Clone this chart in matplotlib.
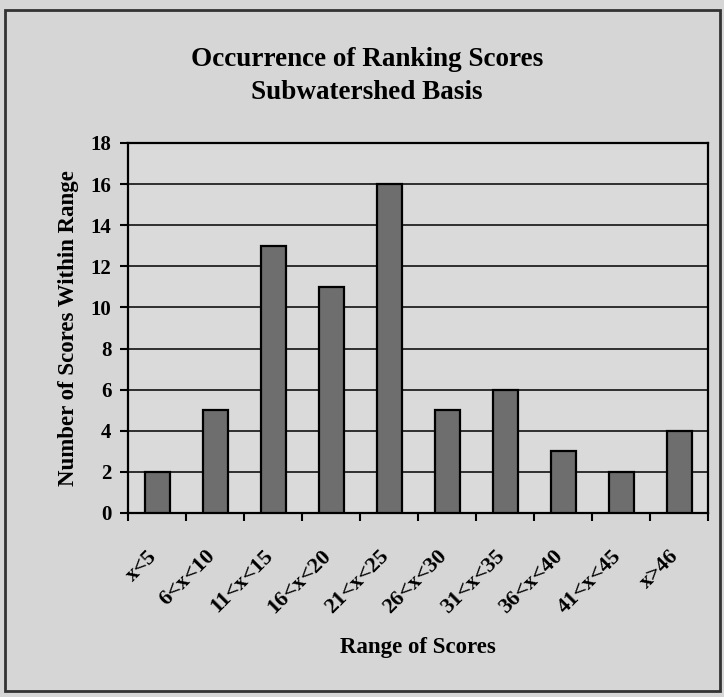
import matplotlib.pyplot as plt
import matplotlib.transforms as mtransforms
from matplotlib.patches import Rectangle
import numpy as np

categories = ['x<5', '6<x<10', '11<x<15', '16<x<20', '21<x<25',
              '26<x<30', '31<x<35', '36<x<40', '41<x<45', 'x>46']
counts = [2, 5, 13, 11, 16, 5, 6, 3, 2, 4]
y_ticks = [0, 2, 4, 6, 8, 10, 12, 14, 16, 18]

plt.rcParams['font.family'] = ['Liberation Serif', 'DejaVu Serif']
plt.rcParams['font.weight'] = 'bold'

fig = plt.figure(figsize=(7.24, 6.97), dpi=100)
fig.patch.set_facecolor('#d6d6d6')
ax = fig.add_axes([0.177, 0.264, 0.801, 0.531])
ax.set_facecolor('#dadada')

x = np.arange(len(categories))
ax.bar(x, counts, width=0.43, color='#6e6e6e', edgecolor='black', linewidth=1.6, zorder=3)

ax.set_xlim(-0.5, len(categories) - 0.5)
ax.set_ylim(0, 18)
ax.set_yticks(y_ticks)
ax.yaxis.grid(True, color='#222222', linewidth=1.3, zorder=0)
ax.set_axisbelow(True)

ax.set_xticks(x)
ax.set_xticklabels(categories, rotation=45, ha='right', rotation_mode='anchor', fontsize=16)
ax.tick_params(axis='x', length=0, pad=24)
shift = mtransforms.ScaledTranslation(-10 / 100, 0, fig.dpi_scale_trans)
for lbl in ax.get_xticklabels():
    lbl.set_transform(lbl.get_transform() + shift)
ax.set_xticks(np.arange(-0.5, len(categories)), minor=True)
ax.tick_params(axis='x', which='minor', length=6, width=1.5, direction='out')
ax.tick_params(axis='y', labelsize=15, length=6, width=1.5, direction='out', pad=6)

for s in ax.spines.values():
    s.set_linewidth(1.6)
    s.set_color('black')

ax.set_ylabel('Number of Scores Within Range', fontsize=16.5, fontweight='bold', labelpad=8)
ax.set_xlabel('Range of Scores', fontsize=16.5, fontweight='bold', labelpad=14)

fig.text(0.507, 0.914, 'Occurrence of Ranking Scores', ha='center', va='center',
         fontsize=19.5, fontweight='bold')
fig.text(0.507, 0.868, 'Subwatershed Basis', ha='center', va='center',
         fontsize=19.5, fontweight='bold')

fig.patches.append(Rectangle((0.007, 0.008), 0.988, 0.978, transform=fig.transFigure,
                             fill=False, edgecolor='#333333', linewidth=2))

fig.savefig('out.png', dpi=100, facecolor=fig.get_facecolor())
